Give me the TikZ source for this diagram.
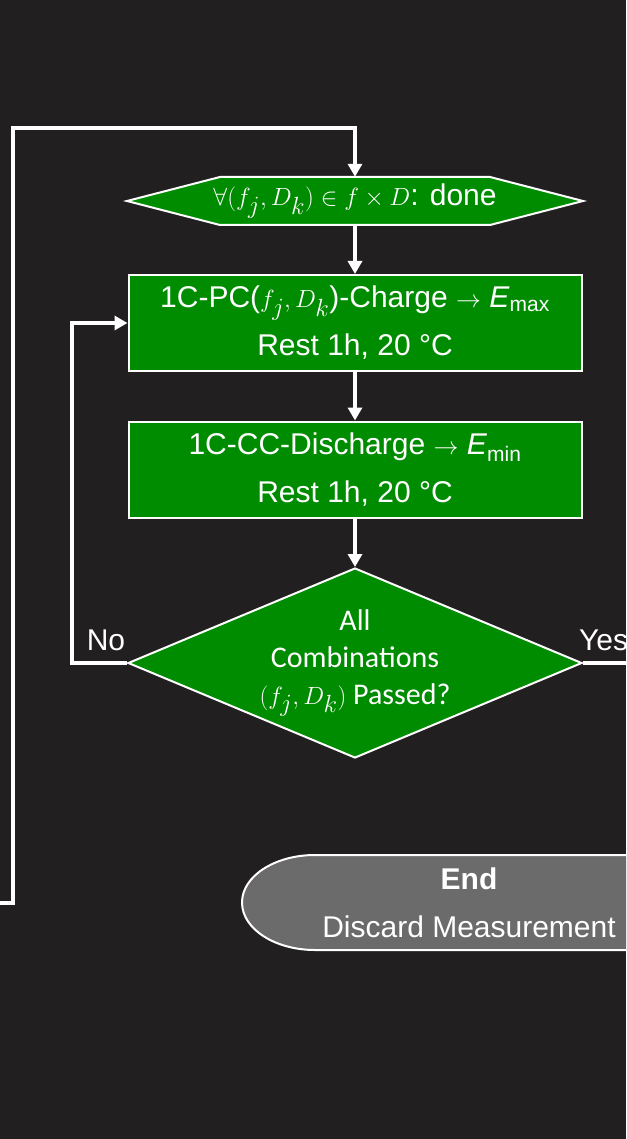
\documentclass[tikz,border=0pt]{standalone}
\usepackage{fontspec}
\setmainfont{Liberation Sans}
\newfontfamily\calib{Carlito}
\usetikzlibrary{arrows.meta,shapes.geometric}
\definecolor{bg}{HTML}{221F20}
\definecolor{grn}{HTML}{008C00}
\definecolor{gry}{HTML}{6B6B6C}
\newcommand{\myMath}[1]{{\fontsize{35}{40}\selectfont$#1$}}
\begin{document}
\begin{tikzpicture}[x=1pt,y=-1pt,
  box/.style={draw=white, line width=2pt, fill=grn, text=white, minimum width=453pt, minimum height=96pt, align=center, font=\fontsize{30}{48}\selectfont, inner sep=0pt},
  conn/.style={draw=white, line width=4pt},
  arr/.style={conn, -{Triangle[width=14pt,length=13pt]}},
  lbl/.style={text=white, font=\fontsize{30}{36}\selectfont, inner sep=0pt},
  shapeline/.style={draw=white, line width=2pt}]
\useasboundingbox (0,0) rectangle (626,1139);
\fill[bg] (0,0) rectangle (626,1139);
\clip (0,0) rectangle (626,1139);
% hexagon (preparation step)
\filldraw[shapeline, fill=grn] (127,201) -- (220,177) -- (490,177) -- (583,201) -- (490,225) -- (220,225) -- cycle;
\node[lbl, minimum width=270pt, minimum height=48pt] (hex) at (355,201) {\myMath{\forall\bigl(f_j, D_k\bigr) \in f \times D}: done};
% process boxes
\node[box] (r1) at (355,323) {1C-PC(\myMath{f_j, D_k})-Charge \myMath{\rightarrow} \textit{E}\textsubscript{max}\\Rest 1h, 20 °C};
\node[box] (r2) at (355,469.5) {1C-CC-Discharge \myMath{\rightarrow} \textit{E}\textsubscript{min}\\Rest 1h, 20 °C};
% decision
\node[diamond, shapeline, fill=grn, text=white, minimum width=454pt, minimum height=190pt, aspect=2.39, inner sep=0pt, align=center, font=\calib\fontsize{30}{37}\selectfont] (dia) at (355,663) {All\\Combinations\\\myMath{\bigl(f_j, D_k\bigr)} Passed?};
% end terminal
\filldraw[shapeline, fill=gry] (700,855) -- (315,855) arc[start angle=270, end angle=90, x radius=73, y radius=47.5] -- (700,950) -- cycle;
\node[lbl, align=center, font=\fontsize{30}{48}\selectfont] (endn) at (469,903) {\textbf{End}\\Discard Measurement};
% labels
\node[lbl] (no) at (106,640) {No};
\node[lbl, anchor=west] (yes) at (579,640) {Yes};
% connectors
\coordinate (loopin) at (-10,903);
\coordinate (yesout) at (640,663);
\draw[arr] (loopin) -- (13,903) -- (13,128) -| (hex.north);
\draw[arr] (hex.south) -- (r1.north);
\draw[arr] (r1.south) -- (r2.north);
\draw[arr] (r2.south) -- (dia.north);
\draw[arr] (dia.west) -- (72,663) |- (r1.west);
\draw[conn] (dia.east) -- (yesout);
\end{tikzpicture}
\end{document}
